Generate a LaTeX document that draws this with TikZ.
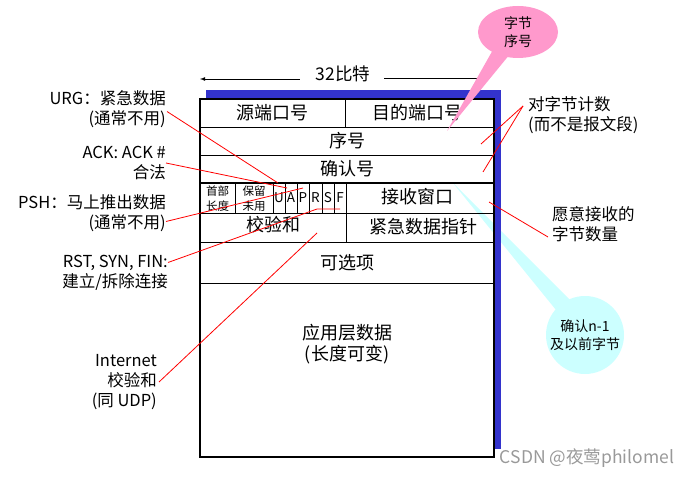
\documentclass[tikz,border=0pt]{standalone}
\usepackage{xcolor}
\usepackage{fontspec}
\usepackage{tikz}
\usetikzlibrary{shapes.geometric}
\newfontfamily\cjk{Noto Sans CJK SC}
\definecolor{shadowblue}{RGB}{51,51,204}
\definecolor{bubblepink}{RGB}{255,153,204}
\definecolor{bubblecyan}{RGB}{204,255,255}

\begin{document}
\begin{tikzpicture}[x=1pt,y=1pt]
        \tikzstyle{every node}+=[inner sep=0pt]
        \tikzstyle{big}=[font=\cjk\fontsize{18}{21}\selectfont]
        \tikzstyle{lab}=[font=\cjk\fontsize{16.5}{20}\selectfont]
        \tikzstyle{tiny}=[font=\cjk\fontsize{11.5}{15}\selectfont, align=left]
        \tikzstyle{flag}=[font=\cjk\fontsize{13.5}{15}\selectfont]
        \tikzstyle{bubble}=[font=\cjk\fontsize{14}{18}\selectfont, align=center]
        \tikzstyle{pointer}=[red, line width=0.8pt]
        \useasboundingbox (0,0) rectangle (695,-478);
        % width arrow
        \draw (343,-74) node [lab, font=\cjk\fontsize{17.5}{20}\selectfont] (bits) {32比特};
        \coordinate (bitsL) at (200,-79);
        \coordinate (bitsR) at (477,-78);
        \draw [black, line width=0.8pt, -latex, shorten <=16pt] (bits.west |- bitsL) -- (bitsL);
        \draw [black, line width=0.8pt, shorten <=14pt] (bits.east |- bitsR) -- (bitsR);
        % header box
        \fill [shadowblue] (206,-90) rectangle (501,-449);
        \fill [white] (200,-99) rectangle (494,-457);
        \coordinate (ctip) at (453,-183);
        \fill [bubblecyan] (ctip) -- (556,-310) -- (574,-304) -- cycle;
        \fill [shadowblue] (494.5,-90) rectangle (501,-449);
        \draw [black, line width=1.2pt] (200,-99) rectangle (494,-457);
        \draw [black, line width=0.9pt] (200,-127) -- (494,-127);
        \draw [black, line width=0.9pt] (200,-155) -- (494,-155);
        \draw [black, line width=1.6pt] (200,-183) -- (494,-183);
        \draw [black, line width=0.9pt] (200,-213) -- (494,-213);
        \draw [black, line width=0.9pt] (200,-242) -- (494,-242);
        \draw [black, line width=0.9pt] (200,-283) -- (494,-283);
        \draw [black, line width=0.9pt] (345,-99) -- (345,-127);
        \draw [black, line width=0.9pt] (235,-183) -- (235,-213);
        \draw [black, line width=0.9pt] (273,-183) -- (273,-213);
        \draw [black, line width=0.9pt] (285,-183) -- (285,-213);
        \draw [black, line width=0.9pt] (297,-183) -- (297,-213);
        \draw [black, line width=0.9pt] (309,-183) -- (309,-213);
        \draw [black, line width=0.9pt] (322,-183) -- (322,-213);
        \draw [black, line width=0.9pt] (334,-183) -- (334,-213);
        \draw [black, line width=0.9pt] (346,-183) -- (346,-242);
        \draw (272,-113) node [big] (src) {源端口号};
        \draw (417,-113) node [big] (dst) {目的端口号};
        \draw (347,-141) node [big] (seq) {序号};
        \draw (347,-169) node [big] (ackn) {确认号};
        \draw (217.5,-198.5) node [tiny] (hlen) {首部\\长度};
        \draw (254,-198.5) node [tiny] (rsv) {保留\\未用};
        \draw (279,-198) node [flag] (fU) {U};
        \draw (291,-198) node [flag] (fA) {A};
        \draw (303,-198) node [flag] (fP) {P};
        \draw (315.5,-198) node [flag] (fR) {R};
        \draw (328,-198) node [flag] (fS) {S};
        \draw (340,-198) node [flag] (fF) {F};
        \draw (417,-197) node [big] (rwnd) {接收窗口};
        \draw (273,-225) node [big] (csum) {校验和};
        \draw (423,-227) node [big] (urgp) {紧急数据指针};
        \draw (347,-344) node [big, align=center] (data) {应用层数据\\(长度可变)};
        \draw (347,-263) node [big] (opt) {可选项};
        % left notes
        \draw (166,-109.5) node [lab, anchor=east, align=right] (lurg) {URG：紧急数据\\(通常不用)};
        \draw (166,-163) node [lab, anchor=east, align=right] (lack) {ACK: ACK \#\\合法};
        \draw (166,-213.5) node [lab, anchor=east, align=right] (lpsh) {PSH：马上推出数据\\(通常不用)};
        \draw (168,-272.5) node [lab, anchor=east, align=right] (lrst) {RST, SYN, FIN:\\建立/拆除连接};
        \draw (157,-382) node [lab, anchor=east, align=right] (linet) {Internet\\校验和\\(同 UDP)};
        % right notes
        \draw (528,-115) node [lab, anchor=west, align=left] (lcnt) {对字节计数\\(而不是报文段)};
        \draw (552,-224) node [lab, anchor=west, align=left] (lwin) {愿意接收的\\字节数量};
        % pointers
        \coordinate (tU) at (278,-183);
        \coordinate (tA) at (287,-188);
        \coordinate (tP) at (303,-188);
        \coordinate (tR) at (317,-209);
        \coordinate (tF) at (340,-209);
        \coordinate (tcs) at (317,-233);
        \coordinate (tseq) at (481,-144);
        \coordinate (tack) at (483,-172);
        \coordinate (twin) at (489,-202);
        \draw [pointer] ([xshift=1pt, yshift=-2pt]lurg.east) -- (tU);
        \draw [pointer] (lack.east) -- (tA);
        \draw [pointer] ([yshift=-8pt]lpsh.east) -- (tP);
        \draw [pointer] ([yshift=10pt]lrst.east) -- (tR) -- (tF);
        \draw [pointer] ([xshift=2pt]linet.east) -- (tcs);
        \draw [pointer] ([xshift=-5pt, yshift=9pt]lcnt.west) -- (tseq);
        \draw [pointer] ([xshift=-5pt, yshift=9pt]lcnt.west) -- (tack);
        \draw [pointer] ([xshift=-4pt, yshift=-13pt]lwin.west) -- (twin);
        % bubbles
        \coordinate (ptip) at (447,-131);
        \fill [bubblepink] (ptip) -- (494,-48) -- (510,-54) -- cycle;
        \draw (518,-32) node [bubble, ellipse, fill=bubblepink, minimum width=80pt, minimum height=52pt] (bseq) {字节\\序号};
        \draw (585,-335) node [bubble, circle, fill=bubblecyan, minimum size=78pt] (backn) {确认n-1\\及以前字节};
        % watermark
        \draw (587,-458) node [font=\cjk\fontsize{17.5}{20}\selectfont, text=black!40] (mark) {CSDN @夜莺philomel};
    \end{tikzpicture}
\end{document}
